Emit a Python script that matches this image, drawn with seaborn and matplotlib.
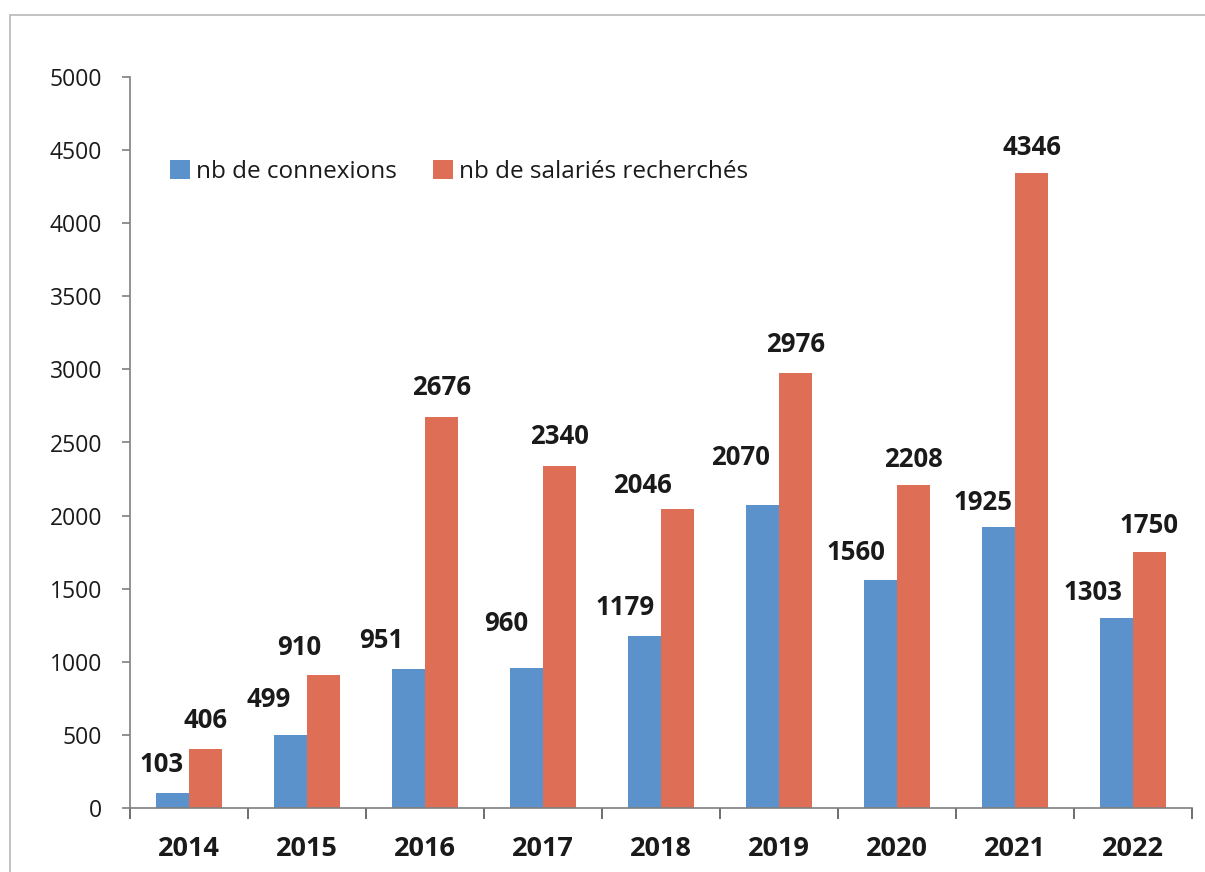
import matplotlib
matplotlib.use("Agg")
import matplotlib.pyplot as plt
import matplotlib.patches as mpatches
import pandas as pd
import seaborn as sns

# data
years = ["2014", "2015", "2016", "2017", "2018", "2019", "2020", "2021", "2022"]
connexions = [103, 499, 951, 960, 1179, 2070, 1560, 1925, 1303]
salaries = [406, 910, 2676, 2340, 2046, 2976, 2208, 4346, 1750]
series_names = ["nb de connexions", "nb de salariés recherchés"]

# label nudges (pixels) relative to the top of each bar, as placed in the source
blue_label_offsets = [(-11, 28), (-22, 36), (-27, 28), (-20, 44), (-19, 28),
                      (-22, 48), (-25, 27), (-15, 24), (-24, 25)]
orange_label_offsets = [(0, 28), (-24, 27), (0, 29), (0, 29), (-35, 23),
                        (0, 28), (0, 26), (0, 25), (0, 27)]

BLUE = "#5B92CC"
ORANGE = "#DE6E55"

df = pd.DataFrame({
    "year": years * 2,
    "value": connexions + salaries,
    "serie": [series_names[0]] * len(years) + [series_names[1]] * len(years),
})

sns.set_style("white")
plt.rcParams["font.family"] = ["Open Sans", "DejaVu Sans"]

fig = plt.figure(figsize=(12.05, 8.72), dpi=100)
ax = fig.add_axes([130 / 1205, 1 - 808 / 872, 1062 / 1205, 731 / 872])

sns.barplot(data=df, x="year", y="value", hue="serie", order=years,
            hue_order=series_names, palette=[BLUE, ORANGE], width=0.56,
            saturation=1, linewidth=0, ax=ax, legend=True)

ax.set_xlim(-0.5, len(years) - 0.5)
ax.set_ylim(0, 5000)
ax.set_yticks(range(0, 5001, 500))
ax.set_xlabel("")
ax.set_ylabel("")

# value labels
for container, offsets in zip(ax.containers, [blue_label_offsets, orange_label_offsets]):
    for bar, (dx, dy) in zip(container, offsets):
        x = bar.get_x() + bar.get_width() / 2
        h = bar.get_height()
        ax.annotate(f"{int(h)}", (x, h), xytext=(dx, dy), textcoords="offset pixels",
                    ha="center", va="center", fontsize=18.5, fontweight="bold",
                    color="#1a1a1a")

# axes styling, Excel-like
for side in ["top", "right"]:
    ax.spines[side].set_visible(False)
for side in ["left", "bottom"]:
    ax.spines[side].set_color("#7f7f7f")
    ax.spines[side].set_linewidth(1.2)

ax.tick_params(axis="y", which="major", direction="out", length=6, width=1.2,
               color="#7f7f7f", labelsize=16.5, labelcolor="#1a1a1a", pad=14, left=True)
ax.tick_params(axis="x", which="major", length=0, labelsize=19.5, labelcolor="#1a1a1a", pad=20)
ax.set_xticks([i + 0.5 for i in range(-1, len(years))], minor=True)
ax.tick_params(axis="x", which="minor", direction="out", length=8, width=1.2,
               color="#555555", bottom=True)
for lbl in ax.get_xticklabels():
    lbl.set_fontweight("bold")

leg = ax.legend(loc="center left", bbox_to_anchor=(0.038, 0.87), ncol=2, frameon=False,
                fontsize=17.5, handlelength=0.8, handleheight=0.8, handletextpad=0.25,
                columnspacing=1.5, borderpad=0, borderaxespad=0)
for t in leg.get_texts():
    t.set_color("#1a1a1a")

# thin frame around the chart area, as in the scan
frame = mpatches.Rectangle((10 / 1205, -0.1), 1.2, 1.1 - 15 / 872, transform=fig.transFigure,
                           fill=False, edgecolor="#b8b8b8", linewidth=1.2)
fig.patches.append(frame)

fig.savefig("out.png", dpi=100)
